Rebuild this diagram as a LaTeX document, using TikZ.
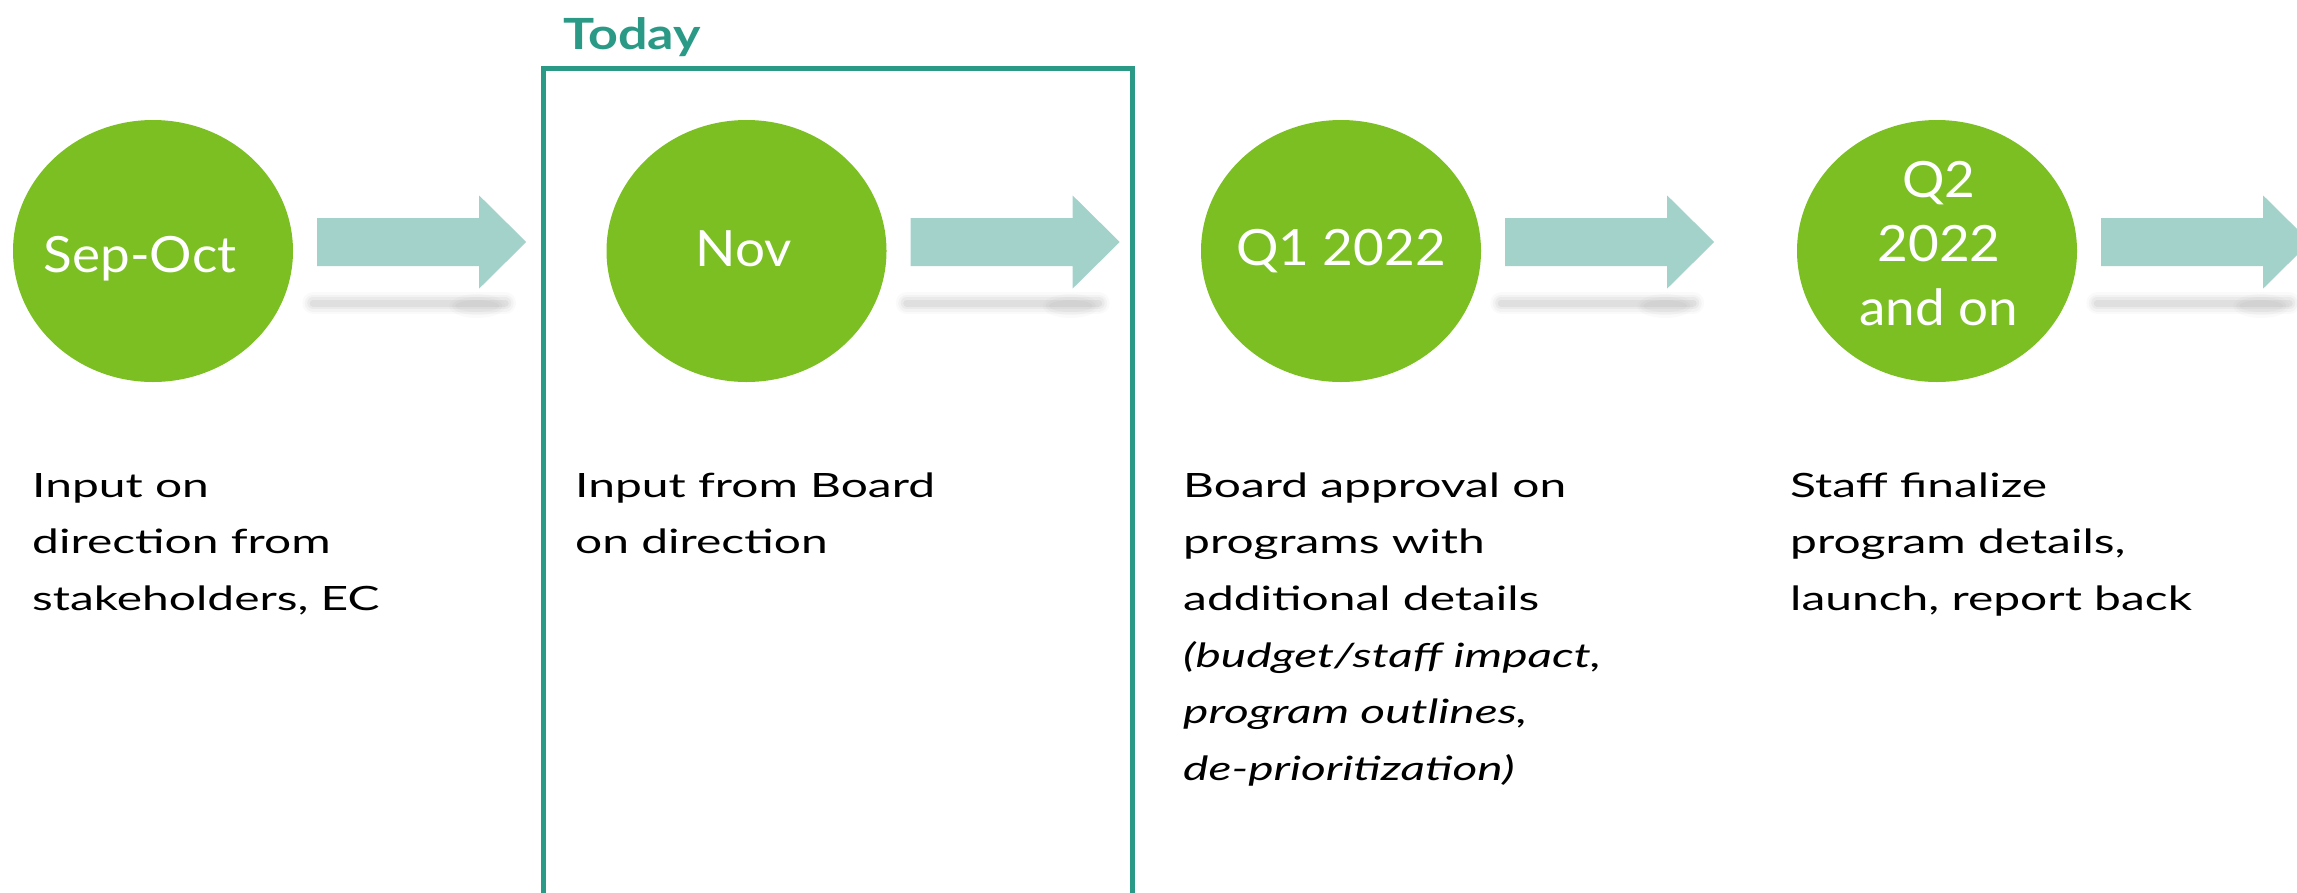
\documentclass[tikz,border=0pt]{standalone}
\usepackage{fontspec}
\setmainfont{Lato}
\newfontfamily\descfont{Lato}[FakeStretch=1.43]
\newfontfamily\circfont{Lato}[FakeStretch=1.06]
\newfontfamily\todayfont{Lato}[FakeStretch=1.21]
\usetikzlibrary{shapes.geometric,calc}
\definecolor{leaf}{HTML}{7BBF23}
\definecolor{mint}{HTML}{A3D2CB}
\definecolor{tealbox}{HTML}{2A9A86}
\begin{document}
\begin{tikzpicture}[x=1pt,y=-1pt,
  stage/.style={ellipse, fill=leaf, minimum width=280pt, minimum height=262pt, inner sep=0pt},
  stagetext/.style={text=white, font=\circfont\fontsize{50}{64}\selectfont, align=center, inner sep=0pt, anchor=base},
  desc/.style={font=\descfont\fontsize{33.5}{56.7}\selectfont, align=left, inner sep=0pt, anchor=base west},
  flow/.style={fill=mint},
  shade/.style={draw=gray, line cap=round}]
\useasboundingbox (0,0) rectangle (2297,892);
\clip (0,0) rectangle (2297,892);

% stages
\node[stage] (c1) at (153,251) {};
\node[stage] (c2) at (746.5,251) {};
\node[stage] (c3) at (1341,251) {};
\node[stage] (c4) at (1937,251) {};

\node[stagetext] (l1) at (140,272) {Sep-Oct};
\node[stagetext] (l2) at (744,266) {Nov};
\node[stagetext] (l3) at (1341,265) {Q1 2022};
\node[stagetext] (l4) at (1939,325) {Q2\\2022\\and on};

% block arrows with soft shadows
\foreach \n in {1,2,3,4}{
  \begin{scope}[shift={($(c\n.east)+(24,-9)$)}]
    \foreach \w/\o in {22/0.04,17/0.06,12/0.08,7/0.1}
      \draw[shade, line width=\w pt, opacity=\o] (-4,61) -- (188,61);
    \foreach \r/\o in {12/0.04,9/0.05,6/0.06}
      \fill[gray, opacity=\o] (160,64) ellipse ({\r+16} and \r);
    \fill[flow] (0,-24) -- (162,-24) -- (162,-46.5) -- (209,0) -- (162,46.5) -- (162,24) -- (0,24) -- cycle;
  \end{scope}
}

% today frame
\draw[tealbox, line width=5pt] (543.5,905) |- (1132,68) -- (1132,905);
\node[font=\todayfont\bfseries\fontsize{43}{50}\selectfont, text=tealbox, anchor=base west, inner sep=0pt] (today) at (563,49) {Today};

% descriptions
\node[desc] (d1) at (32,610.4) {Input on\\direction from\\stakeholders, EC};
\node[desc] (d2) at (575,553.7) {Input from Board\\on direction};
\node[desc] (d3) at (1183,780.5) {Board approval on\\programs with\\additional details\\\textit{(budget/staff impact,}\\\textit{program outlines,}\\\textit{de-prioritization)}};
\node[desc] (d4) at (1790,610.4) {Staff finalize\\program details,\\launch, report back};
\end{tikzpicture}
\end{document}
